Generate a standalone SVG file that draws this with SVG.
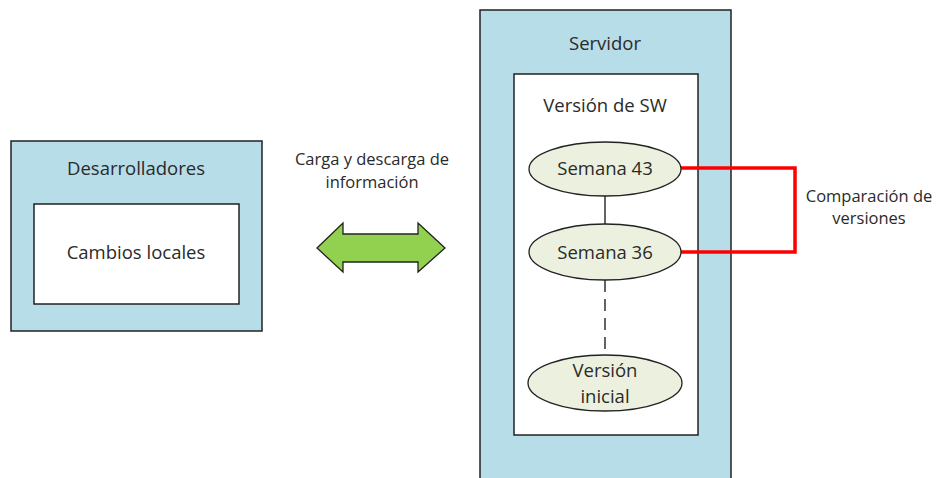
<svg xmlns="http://www.w3.org/2000/svg" width="938" height="478" viewBox="0 0 938 478">
  <style>
    .outer { fill: #b7dde8; stroke: #222; stroke-width: 1.5; }
    .inner { fill: #ffffff; stroke: #222; stroke-width: 1.5; }
    .ver { fill: #ebf1de; stroke: #222; stroke-width: 1.3; }
    text { font-family: "Open Sans", "Liberation Sans", sans-serif; fill: #2a2a2a; text-anchor: middle; }
    .lbl { font-size: 18.5px; }
    .sm { font-size: 16.5px; }
    .link { stroke: #111; stroke-width: 1.3; fill: none; }
  </style>

  <rect width="938" height="478" fill="#ffffff"/>

  <!-- Developers block -->
  <g id="desarrolladores">
    <rect class="outer" x="11" y="141" width="251" height="190"/>
    <text class="lbl" x="136" y="175">Desarrolladores</text>
  </g>
  <g id="cambios-locales">
    <rect class="inner" x="34" y="204" width="205" height="100"/>
    <text class="lbl" x="136" y="259">Cambios locales</text>
  </g>

  <!-- Upload / download arrow -->
  <g id="carga-descarga">
    <text class="sm" x="372" y="165">Carga y descarga de</text>
    <text class="sm" x="372" y="188">información</text>
    <polygon points="317,248 343,223 343,234 418,234 418,223 445,248 418,272 418,262 343,262 343,272" fill="#92d050" stroke="#222" stroke-width="1.3"/>
  </g>

  <!-- Server block -->
  <g id="servidor">
    <rect class="outer" x="480" y="10" width="251" height="480"/>
    <text class="lbl" x="605" y="50">Servidor</text>
  </g>
  <g id="version-sw">
    <rect class="inner" x="514" y="74" width="184" height="361"/>
    <text class="lbl" x="605" y="112">Versión de SW</text>
  </g>

  <!-- Version history links -->
  <g id="connectors">
    <line class="link" x1="605" y1="196" x2="605" y2="224"/>
    <line class="link" x1="605" y1="280" x2="605" y2="355" stroke-dasharray="12,7"/>
    <polyline points="681,168 795,168 795,252 681,252" fill="none" stroke="#ff0000" stroke-width="3.5"/>
  </g>

  <g id="semana-43">
    <ellipse class="ver" cx="605" cy="169" rx="76" ry="27"/>
    <text class="lbl" x="605" y="175">Semana 43</text>
  </g>
  <g id="semana-36">
    <ellipse class="ver" cx="605" cy="252" rx="76" ry="28"/>
    <text class="lbl" x="605" y="259">Semana 36</text>
  </g>
  <g id="version-inicial">
    <ellipse class="ver" cx="605" cy="383" rx="77" ry="28"/>
    <text class="lbl" x="605" y="377">Versión</text>
    <text class="lbl" x="605" y="403">inicial</text>
  </g>

  <g id="comparacion">
    <text class="sm" x="869" y="202">Comparación de</text>
    <text class="sm" x="869" y="224">versiones</text>
  </g>
</svg>
